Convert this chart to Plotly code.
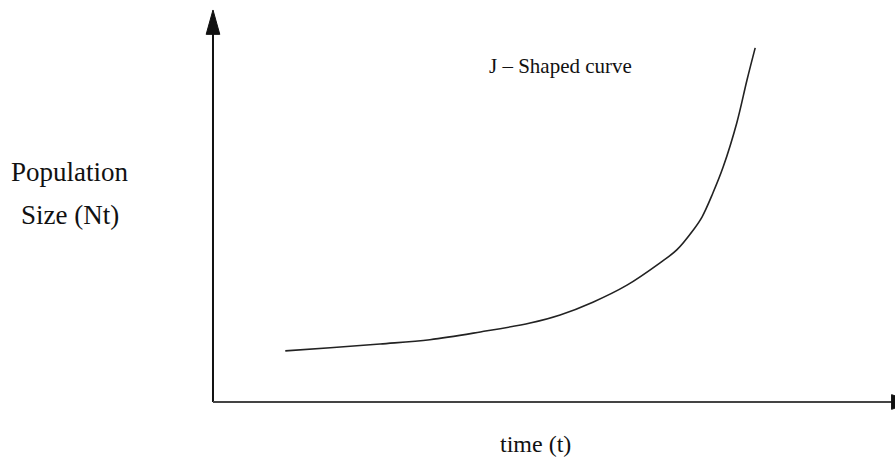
import plotly.graph_objects as go

# J-shaped population growth curve (axis units 0..10)
time_t = [1.06, 1.72, 2.45, 3.18, 3.92, 4.65, 5.09, 5.57, 6.07, 6.55, 6.80, 7.04, 7.17, 7.33, 7.48, 7.68, 7.83, 7.95]
pop_nt = [1.32, 1.40, 1.50, 1.61, 1.81, 2.04, 2.25, 2.58, 3.02, 3.59, 3.93, 4.44, 4.78, 5.40, 6.07, 7.21, 8.32, 9.15]

curve_label = "J – Shaped curve"
x_label = "time (t)"
y_label_1 = "Population"
y_label_2 = "Size (Nt)"

FONT = "Liberation Serif"

fig = go.Figure()
fig.add_trace(go.Scatter(
    x=time_t, y=pop_nt, mode="lines",
    line=dict(color="#222222", width=1.6, shape="spline", smoothing=1.0),
    hoverinfo="skip", showlegend=False,
))

# axes lines
fig.add_shape(type="line", x0=0, y0=0, x1=0, y1=9.6, line=dict(color="#111111", width=2))
fig.add_shape(type="line", x0=0, y0=0, x1=10.1, y1=0, line=dict(color="#444444", width=2))
# arrowheads
fig.add_shape(type="path", path="M -0.10,9.50 L 0,10.13 L 0.10,9.50 Z",
              fillcolor="#111111", line=dict(color="#111111", width=1))
fig.add_shape(type="path", path="M 9.95,-0.19 L 10.25,0 L 9.95,0.19 Z",
              fillcolor="#111111", line=dict(color="#111111", width=1))

fig.add_annotation(x=5.09, y=8.68, text=curve_label, showarrow=False,
                   font=dict(family=FONT, size=21, color="#111111"))
fig.add_annotation(x=4.73, y=-1.08, text=x_label, showarrow=False,
                   font=dict(family=FONT, size=24, color="#111111"))
fig.add_annotation(x=-2.1, y=5.94, text=y_label_1, showarrow=False,
                   font=dict(family=FONT, size=27, color="#111111"))
fig.add_annotation(x=-2.1, y=4.82, text=y_label_2, showarrow=False,
                   font=dict(family=FONT, size=27, color="#111111"))

fig.update_layout(
    width=895, height=466,
    margin=dict(l=0, r=0, t=0, b=0),
    paper_bgcolor="white", plot_bgcolor="white",
    xaxis=dict(range=[-3.123, 10.0], visible=False, fixedrange=True),
    yaxis=dict(range=[-1.654, 10.388], visible=False, fixedrange=True),
)

fig.write_html("out.html", config={"displayModeBar": False},
               post_script="document.body.style.margin='0';")
